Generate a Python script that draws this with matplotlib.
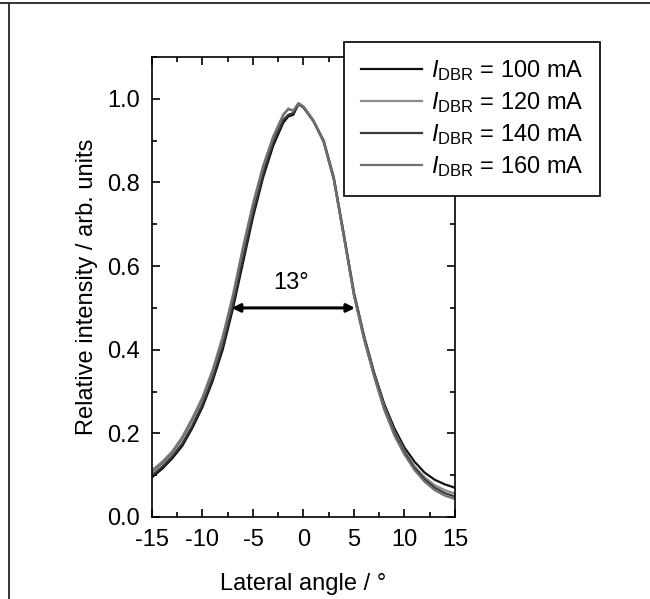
import numpy as np
import matplotlib
matplotlib.use('Agg')
import matplotlib.pyplot as plt
from matplotlib.lines import Line2D
from matplotlib.ticker import MultipleLocator

plt.rcParams['font.family'] = ['Liberation Sans', 'DejaVu Sans']
plt.rcParams['mathtext.fontset'] = 'custom'
plt.rcParams['mathtext.rm'] = 'Liberation Sans'
plt.rcParams['mathtext.it'] = 'Liberation Sans:italic'

# lateral angle (deg)
angle = [-15, -14, -13, -12, -11, -10, -9, -8, -7, -6, -5, -4, -3, -2, -1.5, -1, -0.5,
         0, 1, 2, 3, 4, 5, 6, 7, 8, 9, 10, 11, 12, 13, 14, 15]

i_100 = [0.095, 0.115, 0.140, 0.170, 0.213, 0.263, 0.325, 0.400, 0.497, 0.607, 0.717, 0.812, 0.888, 0.943, 0.958, 0.962, 0.988,
         0.980, 0.947, 0.900, 0.812, 0.676, 0.537, 0.433, 0.345, 0.270, 0.212, 0.166, 0.132, 0.106, 0.089, 0.078, 0.070]
i_120 = [0.112, 0.132, 0.157, 0.192, 0.237, 0.287, 0.352, 0.432, 0.530, 0.645, 0.750, 0.840, 0.910, 0.963, 0.977, 0.971, 0.990,
         0.982, 0.948, 0.898, 0.810, 0.673, 0.534, 0.430, 0.341, 0.264, 0.204, 0.158, 0.121, 0.095, 0.076, 0.064, 0.056]
i_140 = [0.100, 0.120, 0.145, 0.176, 0.219, 0.270, 0.333, 0.410, 0.508, 0.620, 0.728, 0.822, 0.897, 0.950, 0.962, 0.966, 0.987,
         0.979, 0.946, 0.897, 0.808, 0.671, 0.531, 0.427, 0.338, 0.260, 0.200, 0.154, 0.117, 0.090, 0.070, 0.057, 0.049]
i_160 = [0.108, 0.128, 0.153, 0.188, 0.232, 0.283, 0.347, 0.427, 0.525, 0.640, 0.746, 0.837, 0.908, 0.961, 0.975, 0.972, 0.989,
         0.981, 0.947, 0.896, 0.806, 0.669, 0.529, 0.424, 0.335, 0.256, 0.195, 0.149, 0.112, 0.084, 0.064, 0.051, 0.043]

labels = [r'$I_{\mathrm{DBR}}$ = 100 mA', r'$I_{\mathrm{DBR}}$ = 120 mA',
          r'$I_{\mathrm{DBR}}$ = 140 mA', r'$I_{\mathrm{DBR}}$ = 160 mA']
colors = ['#111111', '#8a8a8a', '#3a3a3a', '#707070']

fwhm_left, fwhm_right, fwhm_level = -7.1, 5.1, 0.5

FS = 17

fig = plt.figure(figsize=(6.5, 5.99), dpi=100)
ax = fig.add_axes([0.2338, 0.1369, 0.4662, 0.7679])

for y, c, lab in zip([i_100, i_120, i_140, i_160], colors, labels):
    ax.plot(angle, y, color=c, lw=1.6, label=lab)

ax.annotate('', xy=(fwhm_right, fwhm_level), xytext=(fwhm_left, fwhm_level),
            arrowprops=dict(arrowstyle='<|-|>', color='black', lw=2.2,
                            mutation_scale=12, shrinkA=0, shrinkB=0))
ax.text(-1.2, 0.56, '13°', fontsize=FS, ha='center', va='center')

ax.set_xlim(-15, 15)
ax.set_ylim(0, 1.1)
ax.xaxis.set_major_locator(MultipleLocator(5))
ax.xaxis.set_minor_locator(MultipleLocator(2.5))
ax.yaxis.set_major_locator(MultipleLocator(0.2))
ax.yaxis.set_minor_locator(MultipleLocator(0.1))
ax.set_xticks([-15, -10, -5, 0, 5, 10, 15])
ax.set_xticklabels(['-15', '-10', '-5', '0', '5', '10', '15'])
ax.tick_params(which='both', direction='in', top=True, right=True, width=1.2, labelsize=FS)
ax.tick_params(which='major', length=6, pad=8.5)
ax.tick_params(which='minor', length=3.5)
for s in ax.spines.values():
    s.set_linewidth(1.2)

ax.set_xlabel('Lateral angle / °', fontsize=FS, labelpad=16)
ax.set_ylabel('Relative intensity / arb. units', fontsize=FS, labelpad=7)

leg = fig.legend(loc='upper left', bbox_to_anchor=(344 / 650, 1 - 42 / 599),
                 bbox_transform=fig.transFigure, fontsize=FS, frameon=True,
                 fancybox=False, edgecolor='black', framealpha=1,
                 handlelength=2.6, handletextpad=0.4, labelspacing=0.3,
                 borderpad=0.7, borderaxespad=0)
leg.get_frame().set_linewidth(1.2)

# page frame lines (top and left)
fig.add_artist(Line2D([0, 1], [1 - 3 / 599, 1 - 3 / 599], transform=fig.transFigure, color='#333333', lw=1.4))
fig.add_artist(Line2D([9 / 650, 9 / 650], [0, 1 - 3 / 599], transform=fig.transFigure, color='#333333', lw=1.4))

fig.savefig('out.png', dpi=100)
